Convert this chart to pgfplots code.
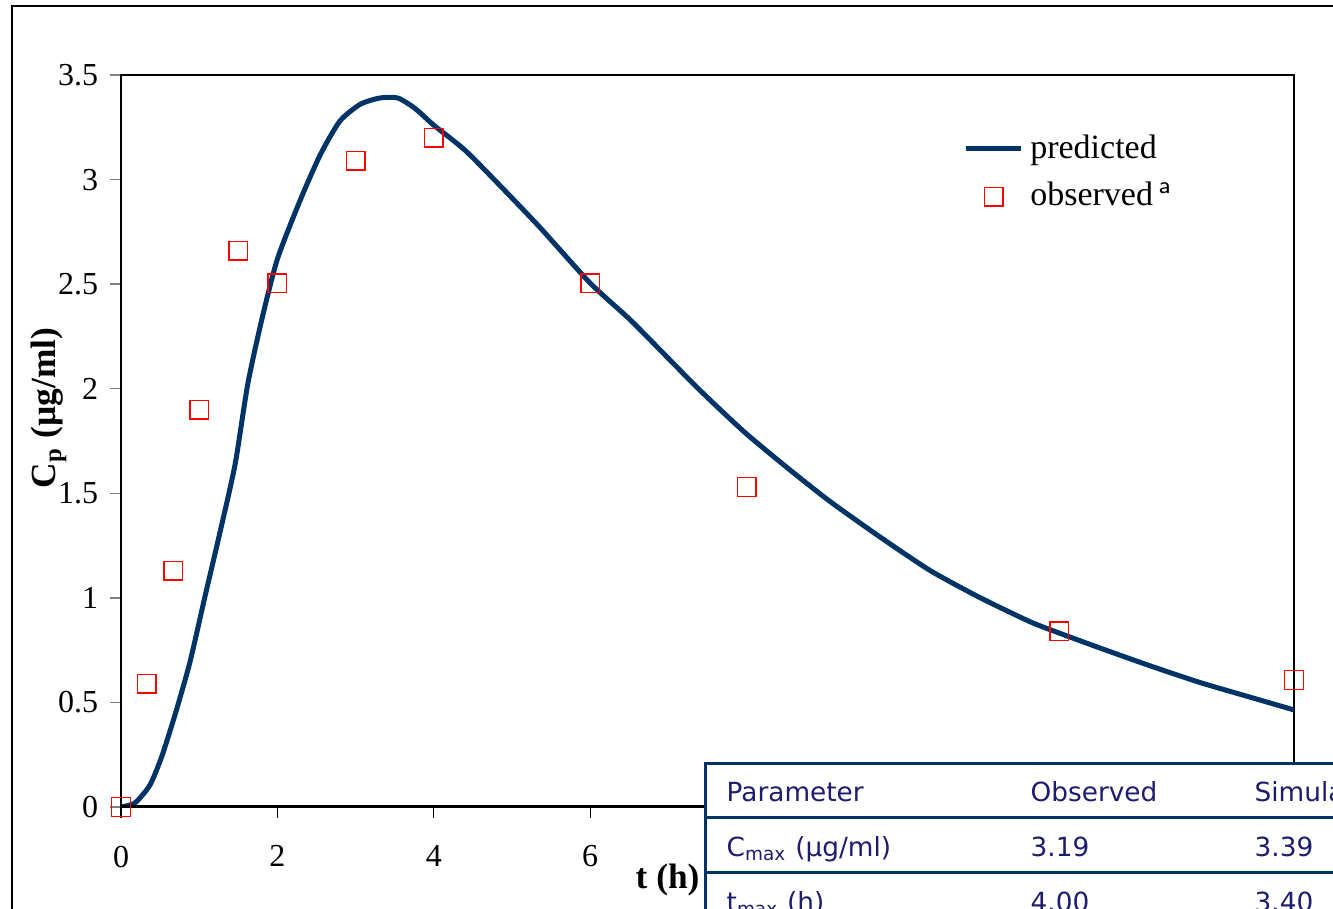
\documentclass[border=0pt]{standalone}
\usepackage{pgfplots}
\pgfplotsset{compat=1.18}
\usepackage{fontspec}
\setmainfont{Liberation Serif}
\newfontfamily\tabfont{DejaVu Sans}
\definecolor{curveblue}{RGB}{0,51,102}
\definecolor{tabline}{RGB}{0,51,102}
\definecolor{tabtext}{RGB}{28,28,112}

\begin{document}
\begin{tikzpicture}[x=0.3pt,y=-0.3pt]
  \useasboundingbox (0,0) rectangle (1333,909);
  \clip (0,0) rectangle (1333,909);
  % outer frame
  \draw[line width=0.6pt] (12,6) rectangle (1400,1000);

  \begin{axis}[
    at={(36.3pt,-242.1pt)}, anchor=south west,
    scale only axis,
    width=351.9pt, height=219.6pt,
    xmin=0, xmax=15, ymin=0, ymax=3.5,
    xtick={0,2,...,14}, ytick={0,0.5,...,3.5},
    xtick pos=bottom, ytick pos=left,
    tick align=outside,
    major tick length=3.3pt,
    xtick style={black, line width=0.4pt},
    ytick style={gray, line width=0.4pt},
    axis line style={line width=0.45pt},
    /pgf/number format/assume math mode=true,
    ticklabel style={font=\fontsize{9.6}{11}\selectfont},
    xticklabel style={yshift=-4.8pt},
    xlabel={\textbf{t (h)}},
    xlabel style={font=\fontsize{10.6}{12}\selectfont,
      at={(axis description cs:0.466,0)}, anchor=center, yshift=-21.9pt},
    ylabel={\textbf{C\textsubscript{p} (µg/ml)}},
    ylabel style={font=\fontsize{10.6}{12}\selectfont,
      at={(axis description cs:-0.0615,0.545)}, anchor=center},
    legend style={draw=none, fill=none, inner sep=0pt,
      at={(axis description cs:0.7178,0.8665)}, anchor=west,
      font=\fontsize{10.2}{11}\selectfont, row sep=1.8pt},
    legend cell align=left,
    legend image code/.code={%
      \draw[mark repeat=2,mark phase=2,#1]
        plot coordinates {(0pt,0pt) (8.25pt,0pt) (16.5pt,0pt)};},
  ]
    \addplot[curveblue, line width=1.5pt, mark=none, smooth, tension=0.4]
      coordinates {
        (0,0) (0.18,0.02) (0.37,0.105) (0.52,0.24) (0.69,0.44)
        (0.88,0.69) (1.07,1.0) (1.27,1.32) (1.46,1.64) (1.62,2.02)
        (1.80,2.33) (2.0,2.62) (2.29,2.90) (2.55,3.12) (2.80,3.28)
        (3.06,3.36) (3.31,3.39) (3.54,3.39) (3.76,3.34) (4.0,3.26)
        (4.40,3.14) (4.85,2.97) (5.36,2.77) (6.0,2.505) (6.51,2.33)
        (6.96,2.16) (7.41,1.99) (7.98,1.79) (8.56,1.61) (9.07,1.46)
        (9.71,1.29) (10.35,1.13) (10.99,1.0) (11.63,0.885) (12.01,0.83)
        (12.52,0.76) (13.16,0.675) (13.80,0.595) (14.44,0.525) (15.0,0.464)
      };
    \addlegendentry{predicted}

    \addplot[only marks, mark=square, mark size=2.8pt,
             mark options={red, line width=0.45pt}]
      coordinates {
        (0,0) (0.33,0.59) (0.67,1.13) (1,1.90) (1.5,2.66) (2,2.505)
        (3,3.09) (4,3.20) (6,2.505) (8,1.53) (12,0.84) (15,0.607)
      };
    \addlegendentry{observed\,\textsuperscript{\sffamily a}}

    \draw[line width=0.9pt] (axis cs:0,0) -- (axis cs:15,0);
  \end{axis}

  % parameter table
  \fill[white] (705,764) rectangle (1400,1000);
  \draw[tabline, line width=0.9pt]
    (705,1000) -- (705,764) -- (1400,764)
    (705,818) -- (1400,818)
    (705,873) -- (1400,873);
  \begin{scope}[every node/.style={anchor=base west, inner sep=0pt,
      text=tabtext, font=\tabfont\fontsize{7.9}{9}\selectfont}]
    \node at (726,802) {Parameter};
    \node at (1030,802) {Observed};
    \node at (1254,802) {Simulated};
    \node at (726,857) {C\textsubscript{max} (µg/ml)};
    \node at (1030,857) {3.19};
    \node at (1254,857) {3.39};
    \node at (726,912) {t\textsubscript{max} (h)};
    \node at (1030,912) {4.00};
    \node at (1254,912) {3.40};
  \end{scope}
\end{tikzpicture}
\end{document}
